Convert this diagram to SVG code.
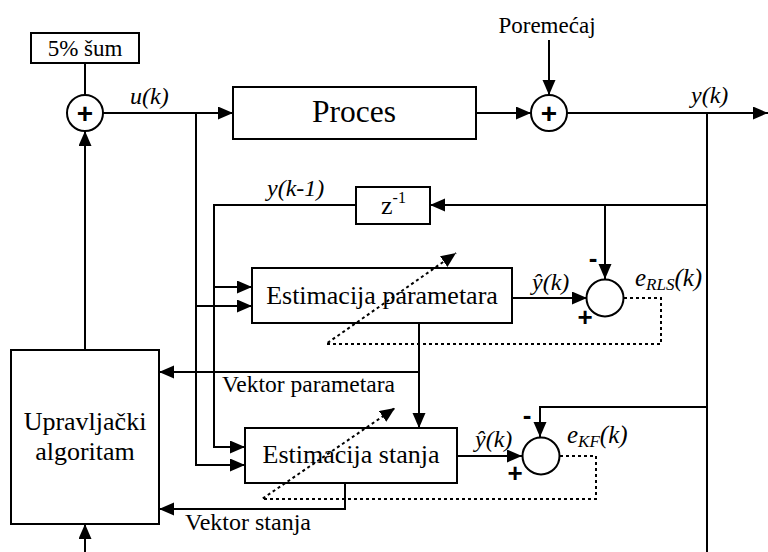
<svg xmlns="http://www.w3.org/2000/svg" width="768" height="552" viewBox="0 0 768 552">
<style>
.ln{fill:none;stroke:#000;stroke-width:2}
.ds{fill:none;stroke:#000;stroke-width:2;stroke-dasharray:3,3}
.bx{fill:#fff;stroke:#000;stroke-width:2}
.s{font-weight:bold;fill:#000}
</style>
<defs>
<marker id="a" markerUnits="userSpaceOnUse" markerWidth="16" markerHeight="14" refX="15" refY="6.5" orient="auto">
<path d="M0,0 L15,6.5 L0,13 z" fill="#000"/>
</marker>
</defs>
<rect width="768" height="552" fill="#fff"/>
<g id="noise">
<rect class="bx" x="31" y="33" width="108" height="30"/>
<text font-family="Liberation Serif, Times New Roman, serif" x="85" y="56" font-size="23" text-anchor="middle">5% šum</text>
</g>
<g id="sum1">
<circle class="bx" cx="85" cy="113" r="18"/>
<text class="s" font-family="Liberation Sans, Arial, sans-serif" x="85" y="123" font-size="28" text-anchor="middle">+</text>
</g>
<g id="proces">
<rect class="bx" x="233" y="87" width="243" height="52"/>
<text font-family="Liberation Serif, Times New Roman, serif" x="354" y="122" font-size="31.5" text-anchor="middle">Proces</text>
</g>
<g id="sum2">
<circle class="bx" cx="549" cy="113" r="18"/>
<text class="s" font-family="Liberation Sans, Arial, sans-serif" x="549" y="123" font-size="28" text-anchor="middle">+</text>
</g>
<g id="delay">
<rect class="bx" x="356" y="187" width="74" height="37"/>
<text font-family="Liberation Serif, Times New Roman, serif" x="381" y="214" font-size="26">z<tspan font-size="16" dy="-11">-1</tspan></text>
</g>
<g id="est-param">
<rect class="bx" x="252" y="268" width="260" height="55"/>
<text font-family="Liberation Serif, Times New Roman, serif" x="382" y="304" font-size="26" text-anchor="middle">Estimacija parametara</text>
</g>
<g id="cmp-rls">
<circle class="bx" cx="605" cy="298" r="18.5"/>
</g>
<g id="est-stanja">
<rect class="bx" x="245" y="428" width="212" height="55"/>
<text font-family="Liberation Serif, Times New Roman, serif" x="351" y="463" font-size="26" text-anchor="middle">Estimacija stanja</text>
</g>
<g id="cmp-kf">
<circle class="bx" cx="541" cy="456" r="18.5"/>
</g>
<g id="controller">
<rect class="bx" x="11" y="350" width="148" height="174"/>
<text font-family="Liberation Serif, Times New Roman, serif" x="85" y="430" font-size="26" text-anchor="middle">Upravljački</text>
<text font-family="Liberation Serif, Times New Roman, serif" x="85" y="460" font-size="26" text-anchor="middle">algoritam</text>
</g>
<g id="labels" font-family="Liberation Serif, Times New Roman, serif">
<text x="547" y="33" font-size="23" text-anchor="middle">Poremećaj</text>
<text font-style="italic" x="130" y="104" font-size="24">u(k)</text>
<text font-style="italic" x="691" y="103" font-size="24">y(k)</text>
<text font-style="italic" x="267" y="196" font-size="24">y(k-1)</text>
<text font-style="italic" x="532" y="290" font-size="24">ŷ(k)</text>
<text font-style="italic" x="635" y="286" font-size="25">e<tspan font-size="17" dy="4">RLS</tspan><tspan dy="-4">(k)</tspan></text>
<text font-style="italic" x="475" y="447" font-size="24">ŷ(k)</text>
<text font-style="italic" x="567" y="443" font-size="25">e<tspan font-size="17" dy="4">KF</tspan><tspan dy="-4">(k)</tspan></text>
<text x="222" y="392" font-size="23.5">Vektor parametara</text>
<text x="185" y="530" font-size="24">Vektor stanja</text>
<text class="s" font-family="Liberation Sans, Arial, sans-serif" x="593" y="267" font-size="26" text-anchor="middle">-</text>
<text class="s" font-family="Liberation Sans, Arial, sans-serif" x="585" y="326" font-size="26" text-anchor="middle">+</text>
<text class="s" font-family="Liberation Sans, Arial, sans-serif" x="527" y="424" font-size="26" text-anchor="middle">-</text>
<text class="s" font-family="Liberation Sans, Arial, sans-serif" x="515" y="482" font-size="26" text-anchor="middle">+</text>
</g>
<g id="connectors">
<line class="ln" x1="85" y1="63" x2="85" y2="95"/>
<line class="ln" x1="103" y1="113" x2="233" y2="113" marker-end="url(#a)"/>
<line class="ln" x1="476" y1="113" x2="531" y2="113" marker-end="url(#a)"/>
<line class="ln" x1="549" y1="40" x2="549" y2="95" marker-end="url(#a)"/>
<line class="ln" x1="567" y1="113" x2="768" y2="113" marker-end="url(#a)"/>
<line class="ln" x1="707" y1="113" x2="707" y2="552"/>
<line class="ln" x1="85" y1="350" x2="85" y2="131" marker-end="url(#a)"/>
<line class="ln" x1="85" y1="552" x2="85" y2="524" marker-end="url(#a)"/>
<polyline class="ln" points="196,113 196,465 245,465" marker-end="url(#a)"/>
<line class="ln" x1="196" y1="306" x2="252" y2="306" marker-end="url(#a)"/>
<polyline class="ln" points="356,205 214,205 214,447 245,447" marker-end="url(#a)"/>
<line class="ln" x1="214" y1="287" x2="252" y2="287" marker-end="url(#a)"/>
<line class="ln" x1="707" y1="205" x2="430" y2="205" marker-end="url(#a)"/>
<line class="ln" x1="605" y1="205" x2="605" y2="279" marker-end="url(#a)"/>
<line class="ln" x1="512" y1="298" x2="587" y2="298" marker-end="url(#a)"/>
<line class="ln" x1="419" y1="323" x2="419" y2="428" marker-end="url(#a)"/>
<line class="ln" x1="419" y1="372" x2="159" y2="372" marker-end="url(#a)"/>
<polyline class="ln" points="345,483 345,509 159,509" marker-end="url(#a)"/>
<polyline class="ln" points="707,407 540,407 540,437" marker-end="url(#a)"/>
<line class="ln" x1="457" y1="456" x2="522" y2="456" marker-end="url(#a)"/>
<polyline class="ds" points="624,298 661,298 661,344 326,344 456,253" marker-end="url(#a)"/>
<polyline class="ds" points="560,456 596,456 596,499 262,499 395,408" marker-end="url(#a)"/>
</g>
</svg>
